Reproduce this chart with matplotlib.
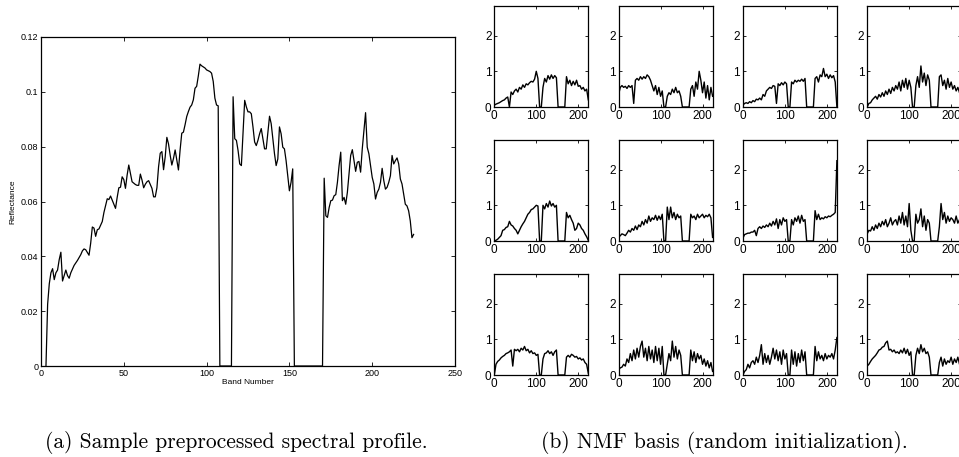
import numpy as np
import matplotlib
matplotlib.use("Agg")
import matplotlib.pyplot as plt

plt.rcParams['font.family'] = ['Liberation Sans', 'DejaVu Sans']

# (a) sample preprocessed spectral profile: band number -> reflectance
band_a = [3, 4, 5, 6, 7, 8, 9, 10, 11, 12, 13, 14, 15, 16, 17, 18, 20, 22, 24, 25,
          26, 27, 29, 30, 31, 32, 33, 34, 35, 37, 38, 40, 41, 42, 43, 44, 45, 46, 47, 48,
          49, 50, 51, 52, 53, 54, 55, 57, 58, 59, 60, 61, 62, 63, 64, 65, 67, 68, 69, 70,
          71, 72, 73, 74, 75, 76, 77, 78, 79, 80, 81, 82, 83, 84, 85, 86, 87, 88, 89, 90,
          91, 92, 93, 94, 95, 96, 97, 99, 100, 102, 103, 104, 105, 106, 107, 108,
          115, 116, 117, 118, 119, 120, 121, 122, 123, 124, 125, 126, 127, 128, 129, 130,
          131, 132, 133, 134, 135, 136, 137, 138, 139, 140, 141, 142, 143, 144, 145, 146,
          147, 148, 149, 150, 151, 152, 153,
          170, 171, 172, 173, 174, 175, 176, 177, 178, 179, 180, 181, 182, 183, 184, 185,
          186, 187, 188, 189, 190, 191, 192, 193, 194, 195, 196, 197, 198, 199, 200, 201,
          202, 203, 204, 205, 206, 207, 208, 209, 210, 211, 212, 213, 214, 215, 216, 217,
          218, 219, 220, 221, 222, 223, 224, 225]
refl_a = [0.0, 0.0225, 0.030, 0.034, 0.0355, 0.0315, 0.034, 0.035, 0.0388, 0.0415,
          0.031, 0.033, 0.035, 0.033, 0.032, 0.034, 0.0367, 0.0385, 0.0406, 0.042,
          0.0427, 0.0424, 0.0404, 0.0448, 0.0507, 0.0503, 0.0473, 0.0497, 0.050, 0.0527,
          0.056, 0.061, 0.0607, 0.062, 0.0605, 0.059, 0.0575, 0.0615, 0.065, 0.0652,
          0.069, 0.068, 0.0648, 0.0696, 0.0733, 0.0702, 0.0672, 0.0662, 0.0659, 0.0659,
          0.070, 0.0678, 0.065, 0.0663, 0.0672, 0.0676, 0.0648, 0.0617, 0.0617, 0.065,
          0.0727, 0.0776, 0.0782, 0.0716, 0.0763, 0.0834, 0.081, 0.0769, 0.0733, 0.0757,
          0.0788, 0.0751, 0.0715, 0.0788, 0.0849, 0.0853, 0.088, 0.091, 0.0928, 0.0944,
          0.0952, 0.0971, 0.1013, 0.102, 0.1058, 0.1101, 0.1095, 0.1087, 0.108, 0.1074,
          0.1068, 0.1038, 0.0977, 0.0952, 0.0949, 0.0,
          0.0, 0.0982, 0.0829, 0.0823, 0.0786, 0.0737, 0.0731, 0.0847, 0.0969, 0.0945,
          0.0927, 0.0927, 0.092, 0.0872, 0.0817, 0.0804, 0.0823, 0.0847, 0.0866, 0.0829,
          0.0792, 0.0792, 0.0853, 0.0911, 0.0884, 0.0829, 0.0774, 0.0731, 0.0755, 0.0872,
          0.0847, 0.0798, 0.0792, 0.0749, 0.0694, 0.0639, 0.067, 0.0719, 0.0,
          0.0, 0.0685, 0.0548, 0.0542, 0.0578, 0.0603, 0.0605, 0.0621, 0.0625, 0.067,
          0.0731, 0.078, 0.0603, 0.0615, 0.059, 0.0633, 0.070, 0.0768, 0.0789, 0.0749,
          0.071, 0.0743, 0.0746, 0.0707, 0.0792, 0.0859, 0.0924, 0.0798, 0.0774, 0.0731,
          0.0688, 0.0664, 0.0609, 0.0633, 0.0645, 0.067, 0.0721, 0.0676, 0.0645, 0.0652,
          0.067, 0.0694, 0.0768, 0.0737, 0.0749, 0.0759, 0.0737, 0.0682, 0.0664, 0.0627,
          0.059, 0.0584, 0.0566, 0.0529, 0.0468, 0.048]

# (b) NMF basis vectors, sampled every 4 bands (0..224), row by row
nmf_band = list(range(0, 225, 4))
basis_r1c1 = [0.05, 0.08, 0.10, 0.12, 0.15, 0.18, 0.20, 0.25,
              0.28, 0.0, 0.42, 0.35, 0.45, 0.50, 0.42, 0.55,
              0.50, 0.62, 0.55, 0.65, 0.62, 0.68, 0.72, 0.70,
              0.78, 1.0, 0.80, 0.0, 0.0, 0.55, 0.80, 0.70,
              0.88, 0.78, 0.90, 0.80, 0.88, 0.82, 0.0, 0.0,
              0.0, 0.0, 0.0, 0.85, 0.65, 0.75, 0.60, 0.72,
              0.62, 0.75, 0.58, 0.60, 0.50, 0.55, 0.45, 0.50,
              0.20]
basis_r1c2 = [0.35, 0.55, 0.60, 0.55, 0.58, 0.52, 0.60, 0.55,
              0.60, 0.10, 0.75, 0.80, 0.75, 0.85, 0.78, 0.85,
              0.80, 0.90, 0.85, 0.75, 0.60, 0.45, 0.60, 0.35,
              0.55, 0.30, 0.45, 0.0, 0.0, 0.30, 0.40, 0.35,
              0.50, 0.40, 0.55, 0.40, 0.45, 0.30, 0.0, 0.0,
              0.0, 0.0, 0.0, 0.50, 0.60, 0.30, 0.70, 0.50,
              1.0, 0.75, 0.40, 0.70, 0.25, 0.60, 0.20, 0.55,
              0.30]
basis_r1c3 = [0.05, 0.10, 0.12, 0.10, 0.15, 0.12, 0.18, 0.15,
              0.22, 0.20, 0.25, 0.20, 0.35, 0.30, 0.45, 0.50,
              0.55, 0.52, 0.60, 0.58, 0.10, 0.65, 0.60, 0.68,
              0.62, 0.70, 0.65, 0.0, 0.0, 0.70, 0.65, 0.75,
              0.70, 0.75, 0.72, 0.78, 0.72, 0.80, 0.0, 0.0,
              0.0, 0.0, 0.0, 0.80, 0.85, 0.70, 0.90, 0.85,
              1.08, 0.85, 0.92, 0.80, 0.90, 0.82, 0.88, 0.70,
              0.0]
basis_r1c4 = [0.0, 0.10, 0.12, 0.20, 0.25, 0.30, 0.22, 0.35,
              0.28, 0.40, 0.30, 0.45, 0.35, 0.50, 0.38, 0.55,
              0.45, 0.60, 0.50, 0.70, 0.45, 0.75, 0.55, 0.80,
              0.50, 0.75, 0.55, 0.0, 0.0, 0.60, 0.85, 0.55,
              1.15, 0.70, 0.95, 0.60, 0.90, 0.75, 0.0, 0.0,
              0.0, 0.0, 0.0, 0.85, 0.90, 0.60, 0.75, 0.50,
              0.80, 0.55, 0.70, 0.50, 0.60, 0.45, 0.55, 0.40,
              0.50]
basis_r2c1 = [0.0, 0.02, 0.05, 0.10, 0.15, 0.30, 0.32, 0.38,
              0.40, 0.55, 0.45, 0.42, 0.35, 0.30, 0.20, 0.30,
              0.40, 0.48, 0.55, 0.65, 0.75, 0.80, 0.88, 0.90,
              0.95, 1.0, 0.98, 0.0, 0.0, 1.0, 0.90, 1.05,
              0.95, 1.12, 0.98, 1.05, 0.95, 1.0, 0.0, 0.0,
              0.0, 0.0, 0.0, 0.80, 0.65, 0.72, 0.60, 0.50,
              0.30, 0.35, 0.50, 0.45, 0.35, 0.30, 0.20, 0.12,
              0.02]
basis_r2c2 = [0.10, 0.15, 0.20, 0.18, 0.15, 0.22, 0.30, 0.25,
              0.35, 0.30, 0.42, 0.32, 0.45, 0.40, 0.55, 0.45,
              0.60, 0.50, 0.70, 0.55, 0.65, 0.60, 0.72, 0.58,
              0.70, 0.60, 0.75, 0.0, 0.0, 0.95, 0.60, 0.95,
              0.65, 0.80, 0.60, 0.75, 0.65, 0.70, 0.0, 0.0,
              0.0, 0.0, 0.0, 0.75, 0.65, 0.70, 0.60, 0.75,
              0.65, 0.70, 0.75, 0.65, 0.72, 0.68, 0.75, 0.65,
              0.10]
basis_r2c3 = [0.08, 0.18, 0.20, 0.22, 0.22, 0.25, 0.25, 0.30,
              0.15, 0.35, 0.40, 0.35, 0.42, 0.38, 0.45, 0.40,
              0.50, 0.42, 0.55, 0.45, 0.62, 0.35, 0.60, 0.45,
              0.65, 0.55, 0.60, 0.0, 0.0, 0.60, 0.45, 0.65,
              0.55, 0.70, 0.50, 0.72, 0.55, 0.60, 0.0, 0.0,
              0.0, 0.0, 0.0, 0.85, 0.60, 0.75, 0.60, 0.65,
              0.62, 0.68, 0.65, 0.70, 0.68, 0.72, 0.75, 0.80,
              2.25]
basis_r2c4 = [0.20, 0.30, 0.28, 0.40, 0.30, 0.45, 0.35, 0.50,
              0.40, 0.55, 0.45, 0.60, 0.40, 0.50, 0.65, 0.45,
              0.55, 0.60, 0.45, 0.70, 0.50, 0.80, 0.45, 0.70,
              0.40, 1.05, 0.30, 0.0, 0.0, 0.75, 0.50, 0.60,
              0.90, 0.40, 0.70, 0.30, 0.60, 0.50, 0.0, 0.0,
              0.0, 0.0, 0.0, 0.40, 1.05, 0.60, 0.80, 0.50,
              0.70, 0.55, 0.65, 0.60, 0.50, 0.70, 0.50, 0.60,
              0.45]
basis_r3c1 = [0.0, 0.30, 0.38, 0.42, 0.48, 0.52, 0.55, 0.60,
              0.62, 0.65, 0.70, 0.25, 0.72, 0.68, 0.72, 0.65,
              0.75, 0.70, 0.80, 0.68, 0.72, 0.62, 0.68, 0.60,
              0.62, 0.55, 0.58, 0.0, 0.0, 0.45, 0.60, 0.62,
              0.68, 0.60, 0.65, 0.55, 0.65, 0.70, 0.0, 0.0,
              0.0, 0.0, 0.0, 0.50, 0.55, 0.50, 0.58, 0.55,
              0.50, 0.52, 0.45, 0.48, 0.42, 0.45, 0.35, 0.30,
              0.05]
basis_r3c2 = [0.15, 0.20, 0.22, 0.30, 0.25, 0.45, 0.35, 0.60,
              0.40, 0.70, 0.45, 0.75, 0.50, 0.80, 0.95, 0.50,
              0.75, 0.40, 0.80, 0.45, 0.70, 0.35, 0.80, 0.40,
              0.75, 0.30, 0.80, 0.0, 0.0, 0.30, 0.60, 0.40,
              0.95, 0.50, 0.80, 0.45, 0.70, 0.55, 0.0, 0.0,
              0.0, 0.0, 0.0, 0.70, 0.40, 0.65, 0.35, 0.60,
              0.45, 0.55, 0.30, 0.45, 0.25, 0.40, 0.20, 0.35,
              0.10]
basis_r3c3 = [0.0, 0.10, 0.15, 0.30, 0.20, 0.35, 0.40, 0.30,
              0.50, 0.35, 0.55, 0.85, 0.30, 0.60, 0.35, 0.55,
              0.30, 0.50, 0.75, 0.45, 0.70, 0.40, 0.65, 0.30,
              0.70, 0.45, 0.60, 0.0, 0.0, 0.70, 0.30, 0.65,
              0.25, 0.60, 0.35, 0.70, 0.40, 0.65, 0.0, 0.0,
              0.0, 0.0, 0.0, 0.80, 0.40, 0.65, 0.45, 0.55,
              0.40, 0.60, 0.45, 0.55, 0.50, 0.60, 0.45, 0.70,
              1.05]
basis_r3c4 = [0.25, 0.30, 0.38, 0.45, 0.50, 0.55, 0.62, 0.70,
              0.72, 0.78, 0.80, 0.90, 0.95, 0.70, 0.72, 0.65,
              0.70, 0.62, 0.65, 0.60, 0.70, 0.62, 0.75, 0.60,
              0.72, 0.55, 0.65, 0.0, 0.0, 0.55, 0.75, 0.60,
              0.85, 0.65, 0.75, 0.60, 0.65, 0.50, 0.0, 0.0,
              0.0, 0.0, 0.0, 0.35, 0.50, 0.25, 0.45, 0.30,
              0.40, 0.35, 0.50, 0.30, 0.45, 0.35, 0.50, 0.30,
              0.40]

basis = [[basis_r1c1, basis_r1c2, basis_r1c3, basis_r1c4],
         [basis_r2c1, basis_r2c2, basis_r2c3, basis_r2c4],
         [basis_r3c1, basis_r3c2, basis_r3c3, basis_r3c4]]

W, H = 959, 457
fig = plt.figure(figsize=(W / 100, H / 100), dpi=100)


def px_axes(left, top, right, bottom):
    return fig.add_axes([left / W, 1 - bottom / H, (right - left) / W, (bottom - top) / H])


def matlab_style(ax, size, length):
    ax.tick_params(direction='in', top=True, right=True, labelsize=size,
                   length=length, width=0.6, pad=2)
    for s in ax.spines.values():
        s.set_linewidth(0.9)


# left panel
ax = px_axes(41, 37, 455, 366)
ax.plot(band_a, refl_a, color='black', lw=0.9)
ax.set_xlim(0, 250)
ax.set_ylim(0, 0.12)
ax.set_xticks([0, 50, 100, 150, 200, 250])
ax.set_yticks([0, 0.02, 0.04, 0.06, 0.08, 0.1, 0.12])
ax.set_yticklabels(['0', '0.02', '0.04', '0.06', '0.08', '0.1', '0.12'])
matlab_style(ax, 6.5, 3)
ax.set_xlabel('Band Number', fontsize=6, labelpad=1)
ax.set_ylabel('Reflectance', fontsize=6, labelpad=3)

# right panel: 3x4 grid of basis vectors
col_left = [494.3, 618.6, 742.9, 867.2]
row_top = [6, 140, 274]
for r in range(3):
    for c in range(4):
        x0, y0 = col_left[c], row_top[r]
        sax = px_axes(x0, y0, x0 + 94, y0 + 101)
        sax.plot(nmf_band, basis[r][c], color='black', lw=1.0)
        sax.set_xlim(0, 224)
        sax.set_ylim(0, 2.83)
        sax.set_xticks([0, 100, 200])
        sax.set_yticks([0, 1, 2])
        matlab_style(sax, 8.5, 2.5)

cm = ['cmr10', 'DejaVu Serif']
fig.text(236 / W, 1 - 442 / H, '(a) Sample preprocessed spectral profile.',
         ha='center', va='center', fontsize=15.5, family=cm)
fig.text(724 / W, 1 - 442 / H, '(b) NMF basis (random initialization).',
         ha='center', va='center', fontsize=15.5, family=cm)

fig.savefig('out.png', dpi=100)
